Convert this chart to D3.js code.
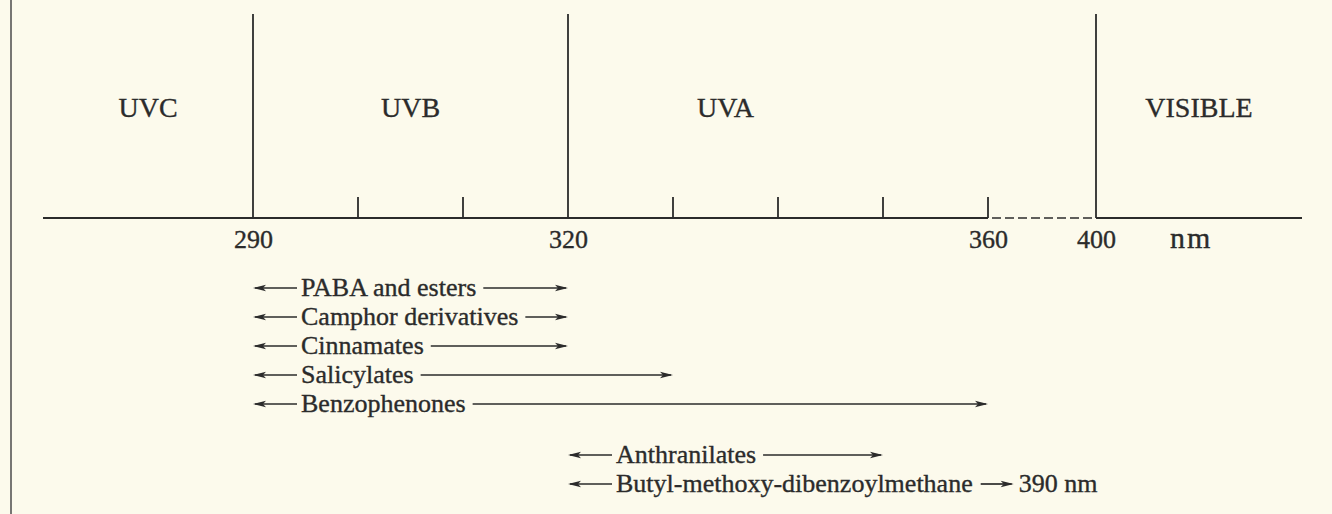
<!DOCTYPE html>
<html>
<head>
<meta charset="utf-8">
<script src="https://cdn.jsdelivr.net/npm/d3@7"></script>
<style>
  html, body { margin: 0; padding: 0; background: #fcfaec; }
  svg { display: block; }
  text { font-family: "Liberation Serif", "Times New Roman", serif; fill: #2b2b2b; stroke: #2b2b2b; stroke-width: 0.35px; }
</style>
</head>
<body>
<svg id="chart" width="1332" height="514"></svg>
<script>
// ---- data ----
const bandNames = ["UVC", "UVB", "UVA", "VISIBLE"];
const bandCentres = [280, 305, 335, 420];          // nm, label positions
const bandBoundaries = [290, 320, 400];            // nm, tall dividers
const minorTicks = [300, 310, 330, 340, 350, 360]; // nm
const tickLabels = [290, 320, 360, 400];           // nm
const axisUnit = "nm";
const absorbers = ["PABA and esters", "Camphor derivatives", "Cinnamates", "Salicylates",
                   "Benzophenones", "Anthranilates", "Butyl-methoxy-dibenzoylmethane"];
const absorbStart = [290, 290, 290, 290, 290, 320, 320]; // nm
const absorbEnd   = [320, 320, 320, 330, 360, 350, null]; // nm (null = annotated)
const absorbGroup = [0, 0, 0, 0, 0, 1, 1];
const endNotes    = [null, null, null, null, null, null, "390 nm"];

// ---- layout ----
const ink = "#2b2b2b";
const svg = d3.select("#chart");
const axisY = 218;

// broken axis: 360–400 compressed (dashed)
const x = d3.scaleLinear()
  .domain([270, 360, 400, 440])
  .range([43, 988, 1096, 1302]);

// left border line of the scanned figure
svg.append("line")
  .attr("x1", 11).attr("x2", 11).attr("y1", 0).attr("y2", 514)
  .attr("stroke", "#555").attr("stroke-width", 1.6);

// axis line: solid, dashed break, solid
svg.append("line")
  .attr("x1", x(270)).attr("x2", x(360)).attr("y1", axisY).attr("y2", axisY)
  .attr("stroke", ink).attr("stroke-width", 1.8);
svg.append("line")
  .attr("x1", x(360)).attr("x2", x(400)).attr("y1", axisY).attr("y2", axisY)
  .attr("stroke", ink).attr("stroke-width", 1.6)
  .attr("stroke-dasharray", "9,4").attr("stroke-dashoffset", -4);
svg.append("line")
  .attr("x1", x(400)).attr("x2", x(440)).attr("y1", axisY).attr("y2", axisY)
  .attr("stroke", ink).attr("stroke-width", 1.8);

// tall boundaries
svg.selectAll("line.boundary").data(bandBoundaries).join("line")
  .attr("class", "boundary")
  .attr("x1", d => x(d)).attr("x2", d => x(d))
  .attr("y1", 14).attr("y2", axisY)
  .attr("stroke", ink).attr("stroke-width", 1.8);

// minor ticks
svg.selectAll("line.minor").data(minorTicks).join("line")
  .attr("class", "minor")
  .attr("x1", d => x(d)).attr("x2", d => x(d))
  .attr("y1", axisY - 21).attr("y2", axisY)
  .attr("stroke", ink).attr("stroke-width", 1.8);

// tick labels via d3 axis
const axis = d3.axisBottom(x).tickValues(tickLabels).tickSize(0).tickPadding(12)
  .tickFormat(d3.format("d"));
const gAxis = svg.append("g").attr("transform", `translate(0,${axisY})`).call(axis);
gAxis.select(".domain").remove();
gAxis.selectAll("text")
  .style("font-family", '"Liberation Serif", serif')
  .style("font-size", "26px").attr("fill", ink);

// unit label
svg.append("text")
  .attr("x", x(418.5)).attr("y", 248)
  .attr("text-anchor", "middle")
  .style("font-size", "30px").style("letter-spacing", "2px")
  .text(axisUnit);

// band labels
svg.selectAll("text.band").data(bandNames).join("text")
  .attr("class", "band")
  .attr("x", (d, i) => x(bandCentres[i]))
  .attr("y", 117)
  .attr("text-anchor", "middle")
  .style("font-size", "28px")
  .text(d => d);

// arrowhead helper
function arrowHead(g, tipX, y, dir) {
  const L = 13, H = 3.2;
  g.append("path")
    .attr("d", `M${tipX},${y} L${tipX - dir * L},${y - H} L${tipX - dir * (L - 3)},${y} L${tipX - dir * L},${y + H} Z`)
    .attr("fill", ink);
}

// absorber ranges
const rowY = i => 288 + i * 29 + absorbGroup[i] * 22;
absorbers.forEach((name, i) => {
  const g = svg.append("g");
  const y = rowY(i);
  const x0 = x(absorbStart[i]);
  // left arrow
  g.append("line").attr("x1", x0 + 2).attr("x2", x0 + 44).attr("y1", y).attr("y2", y)
    .attr("stroke", ink).attr("stroke-width", 1.7);
  arrowHead(g, x0, y, -1);
  const t = g.append("text")
    .attr("x", x0 + 48).attr("y", y + 8)
    .style("font-size", "26px")
    .text(name);
  const tEnd = x0 + 48 + t.node().getComputedTextLength();
  if (absorbEnd[i] != null) {
    const x1 = x(absorbEnd[i]);
    g.append("line").attr("x1", tEnd + 7).attr("x2", x1 - 2).attr("y1", y).attr("y2", y)
      .attr("stroke", ink).attr("stroke-width", 1.7);
    arrowHead(g, x1, y, 1);
  } else {
    const a0 = tEnd + 8, a1 = tEnd + 41;
    g.append("line").attr("x1", a0).attr("x2", a1 - 2).attr("y1", y).attr("y2", y)
      .attr("stroke", ink).attr("stroke-width", 1.7);
    arrowHead(g, a1, y, 1);
    g.append("text")
      .attr("x", a1 + 5).attr("y", y + 8)
      .style("font-size", "26px")
      .text(endNotes[i]);
  }
});
</script>
</body>
</html>
